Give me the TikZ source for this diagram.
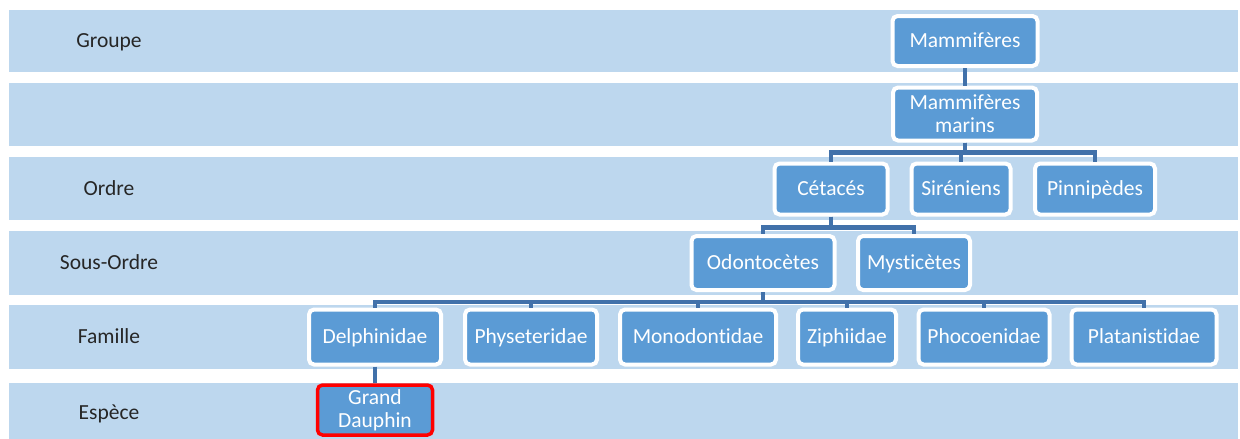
\documentclass[tikz,border=0pt]{standalone}
\usepackage{fontspec}
\setmainfont{Carlito}[RawFeature={-liga;-clig;-dlig}]
\definecolor{bandblue}{RGB}{189,215,238}
\definecolor{boxblue}{RGB}{91,155,213}
\definecolor{linkblue}{RGB}{65,113,170}

\begin{document}
\begin{tikzpicture}[x=1pt,y=-1pt,
    rank/.style={text=black!85,text height=16pt,text depth=4pt},
    taxon/.style={rectangle,rounded corners=5pt,fill=boxblue,draw=white,line width=4pt,
      text=white,minimum height=51pt,align=center,inner sep=1pt,text height=16pt,text depth=4pt},
    twolines/.style={text height={},text depth={}},
    link/.style={draw=linkblue,line width=4.5pt}]
  \fontsize{21.5}{23}\selectfont
  \useasboundingbox (0,0) rectangle (1240,439);
  % bandes
  \foreach \top/\bot in {10/72,83/146,157/220,231/295,305/369,383/439}
    \fill[bandblue] (9,\top) rectangle (1238,\bot);
  % rangs
  \node[rank] (groupe) at (109,41) {Groupe};
  \node[rank] (ordre) at (109,189) {Ordre};
  \node[rank] (sousordre) at (109,263) {Sous-Ordre};
  \node[rank] (famille) at (109,337) {Famille};
  \node[rank] (espece) at (109,413) {Espèce};
  % taxons
  \node[taxon,minimum width=145pt,minimum height=50pt] (mam) at (965,41) {Mammifères};
  \node[taxon,twolines,minimum width=144pt,minimum height=53pt] (marins) at (965,114) {Mammifères\\marins};
  \node[taxon,minimum width=113pt] (cet) at (831,189) {Cétacés};
  \node[taxon,minimum width=99pt] (sir) at (961,189) {Siréniens};
  \node[taxon,minimum width=120pt] (pin) at (1095,189) {Pinnipèdes};
  \node[taxon,minimum width=143pt,minimum height=54pt] (odo) at (763,263) {Odontocètes};
  \node[taxon,minimum width=112pt,minimum height=54pt] (mys) at (914,263) {Mysticètes};
  \node[taxon,minimum width=132pt,minimum height=55pt] (del) at (375,337) {Delphinidae};
  \node[taxon,minimum width=132pt,minimum height=55pt] (phy) at (531,337) {Physeteridae};
  \node[taxon,minimum width=156pt,minimum height=55pt] (mon) at (698,337) {Monodontidae};
  \node[taxon,minimum width=98pt,minimum height=55pt] (zip) at (847,337) {Ziphiidae};
  \node[taxon,minimum width=131pt,minimum height=55pt] (pho) at (984,337) {Phocoenidae};
  \node[taxon,minimum width=145pt,minimum height=55pt] (pla) at (1144,337) {Platanistidae};
  \node[taxon,twolines,draw=red,line width=3.5pt,minimum width=115pt,minimum height=50pt] (gd) at (375,410) {Grand\\Dauphin};
  % liens
  \draw[link] (mam) -- (marins);
  \foreach \c in {cet,sir,pin}
    \draw[link] (marins.south) -- ++(0,10) -| (\c.north);
  \foreach \c in {odo,mys}
    \draw[link] (cet.south) -- ++(0,11) -| (\c.north);
  \foreach \c in {del,phy,mon,zip,pho,pla}
    \draw[link] (odo.south) -- ++(0,10) -| (\c.north);
  \draw[link] (del) -- (gd);
\end{tikzpicture}
\end{document}
